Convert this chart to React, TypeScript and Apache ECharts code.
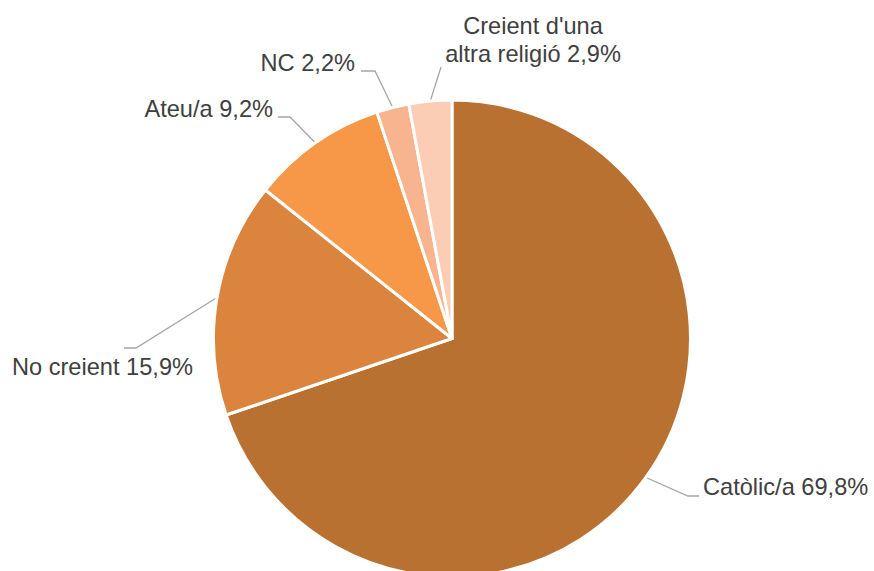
import React, { useEffect, useRef } from 'react';
import * as echarts from 'echarts';

const categories = ['Catòlic/a', 'No creient', 'Ateu/a', 'NC', "Creient d'una altra religió"];
const labelTexts = ['Catòlic/a', 'No creient', 'Ateu/a', 'NC', "Creient d'una\naltra religió"];
const values = [69.8, 15.9, 9.2, 2.2, 2.9];
const colors = ['#B97132', '#DA843E', '#F79748', '#F8B48E', '#FBCDB5'];

// label placement (text anchor + guide-line elbow/end), in px
const labelPlacement: { x: number; y: number; align: string; elbow: number[]; end: number[] }[] = [
  { x: 703, y: 487, align: 'left', elbow: [688, 496], end: [699, 496] },
  { x: 193, y: 367, align: 'right', elbow: [136, 348], end: [124, 348] },
  { x: 273, y: 109, align: 'right', elbow: [290, 117], end: [278, 117] },
  { x: 355, y: 63, align: 'right', elbow: [375, 71], end: [361, 71] },
  { x: 533, y: 40, align: 'center', elbow: [441, 67], end: [441, 67] },
];

const fmt = (v: number) => v.toFixed(1).replace('.', ',') + '%';

export default function App() {
  const ref = useRef<HTMLDivElement>(null);
  useEffect(() => {
    if (!ref.current) return;
    const chart = echarts.init(ref.current, undefined, { renderer: 'svg' });
    chart.setOption({
      animation: false,
      backgroundColor: '#ffffff',
      series: [
        {
          type: 'pie',
          center: [452, 338.5],
          radius: 238.5,
          startAngle: 90,
          clockwise: true,
          avoidLabelOverlap: false,
          data: categories.map((name, i) => ({
            name,
            value: values[i],
            itemStyle: { color: colors[i] },
          })),
          itemStyle: { borderColor: '#ffffff', borderWidth: 3 },
          emphasis: { disabled: true },
          label: {
            show: true,
            color: '#404040',
            fontSize: 23.6,
            fontFamily: '"Liberation Sans", Arial, sans-serif',
            lineHeight: 28.5,
            overflow: 'none',
            formatter: (p: any) => `${labelTexts[p.dataIndex]} ${fmt(p.value)}`,
          },
          labelLine: {
            show: true,
            length: 15,
            length2: 15,
            lineStyle: { color: '#A6A6A6', width: 1.3 },
          },
          labelLayout: (params: any) => {
            const lp = labelPlacement[params.dataIndex];
            const start = params.labelLinePoints ? params.labelLinePoints[0] : lp.elbow;
            return {
              x: lp.x,
              y: lp.y,
              align: lp.align,
              verticalAlign: 'middle',
              labelLinePoints: [start, lp.elbow, lp.end],
            };
          },
        },
      ],
    });
    return () => chart.dispose();
  }, []);
  return (
    <div
      ref={ref}
      style={{ position: 'fixed', left: 0, top: 0, width: 874, height: 571 }}
    />
  );
}
